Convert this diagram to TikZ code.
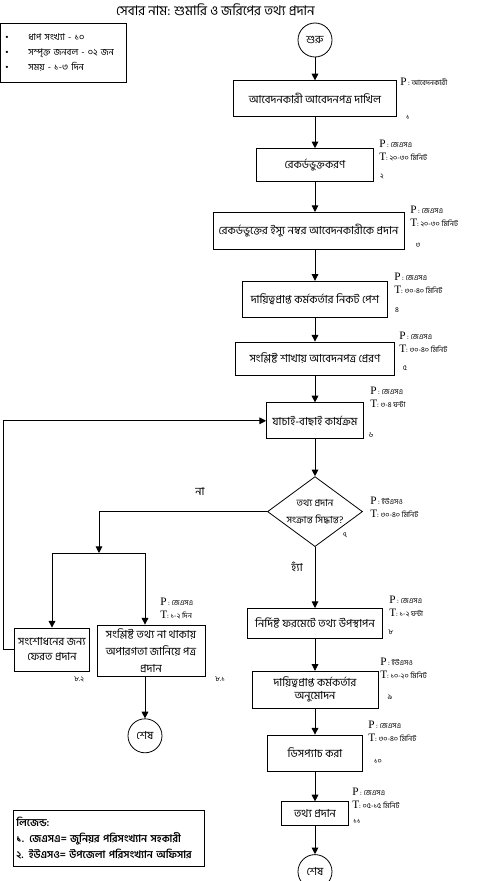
\documentclass[tikz,border=0pt]{standalone}
\usepackage{fontspec}
\setmainfont[Script=Bengali]{Hind Siliguri}
\newfontfamily\latinserif{Liberation Serif}
\usepackage{tikz}
\usetikzlibrary{arrows.meta,positioning,shapes.geometric}

\newcommand{\PTmark}[1]{{\latinserif\fontsize{8.5}{8.5}\selectfont #1}}

\begin{document}
\begin{tikzpicture}[
  x=0.75pt, y=-0.75pt,
  font=\fontsize{8.3}{11}\selectfont,
  task/.style={draw, line width=0.6pt, align=center, inner sep=1pt},
  terminal/.style={draw, circle, line width=0.6pt, minimum size=25.5pt, inner sep=0pt},
  decision/.style={draw, diamond, aspect=1.36, line width=0.6pt, align=center, inner sep=-1.5pt, minimum width=71.25pt, minimum height=52.5pt, font=\fontsize{7.3}{13}\selectfont},
  actor/.style={anchor=north west, align=left, inner sep=0pt, font=\fontsize{5.5}{9.25}\selectfont},
  stepno/.style={inner sep=0pt, font=\fontsize{5.5}{6}\selectfont},
  arrow/.style={-{Triangle[length=5pt,width=5pt]}, line width=0.7pt}
]
\useasboundingbox (0,0) rectangle (485,881);

\node[font=\fontsize{10}{11}\selectfont] (title) at (215.5,10) {সেবার নাম: শুমারি ও জরিপের তথ্য প্রদান};
\node[draw, line width=0.6pt, anchor=north west, align=left, text width=87pt, inner xsep=3.75pt, minimum height=44.25pt, font=\fontsize{7}{11.25}\selectfont] (info) at (0,23)
  {\makebox[17.25pt][l]{\latinserif\textbullet}ধাপ সংখ্যা - ১০\\\makebox[17.25pt][l]{\latinserif\textbullet}সম্পৃক্ত জনবল -  ০২ জন\\\makebox[17.25pt][l]{\latinserif\textbullet}সময় - ১-৩ দিন};

% main column
\node[terminal] (start) at (315,40) {শুরু};
\node[task, minimum width=122.25pt, minimum height=27pt, below=17.25pt of start] (box1) {আবেদনকারী আবেদনপত্র দাখিল};
\node[task, minimum width=87.75pt, minimum height=24.75pt, below=23.25pt of box1] (box2) {রেকর্ডভুক্তকরণ};
\node[task, minimum width=143.25pt, minimum height=27.75pt, below=22.5pt of box2, xshift=-4.9pt] (box3) {রেকর্ডভুক্তের ইস্যু নম্বর আবেদনকারীকে প্রদান};
\node[task, minimum width=108.75pt, minimum height=27pt, below=23.25pt of box3, xshift=4.9pt] (box4) {দায়িত্বপ্রাপ্ত কর্মকর্তার নিকট পেশ};
\node[task, minimum width=119.25pt, minimum height=24.75pt, below=18pt of box4] (box5) {সংশ্লিষ্ট শাখায় আবেদনপত্র প্রেরণ};
\node[task, minimum width=72.75pt, minimum height=27pt, below=20.25pt of box5] (box6) {যাচাই-বাছাই কার্যক্রম};
\node[decision, below=27.75pt of box6] (dia) {তথ্য প্রদান\\সংক্রান্ত সিদ্ধান্ত?};
\node[task, minimum width=101.25pt, minimum height=22.5pt, below=45.75pt of dia] (box8) {নির্দিষ্ট ফরমেটে তথ্য উপস্থাপন};
\node[task, minimum width=94.5pt, minimum height=27.75pt, below=24pt of box8, font=\fontsize{8.3}{9.75}\selectfont] (box9) {দায়িত্বপ্রাপ্ত কর্মকর্তার\\অনুমোদন};
\node[task, minimum width=71.25pt, minimum height=27pt, below=19.5pt of box9] (box10) {ডিসপ্যাচ করা};
\node[task, minimum width=50.25pt, minimum height=18pt, below=22.5pt of box10] (box11) {তথ্য প্রদান};
\node[terminal, below=21pt of box11] (end2) {শেষ};

% left branch
\coordinate (split) at (99,553);
\node[task, minimum width=56.25pt, minimum height=32.25pt, font=\fontsize{8.3}{11.25}\selectfont] (box82) at (52,649.5) {সংশোধনের জন্য\\ফেরত প্রদান};
\node[task, minimum width=81pt, minimum height=38.25pt, font=\fontsize{8.3}{12.75}\selectfont] (box81) at (151,650.5) {সংশ্লিষ্ট তথ্য না থাকায়\\অপারগতা জানিয়ে পত্র\\প্রদান};
\node[terminal, below=31.5pt of box81, xshift=-4.5pt] (end1) {শেষ};

\node (nolbl) at (200,491) {না};
\node (yeslbl) at (297,567) {হ্যাঁ};

% people and time
\node[actor] (p1) at (400,78) {\PTmark{P} : আবেদনকারী};
\node[actor] (p2) at (379,140) {\PTmark{P} : জেএসএ\\\PTmark{T}: ২০-৩০ মিনিট};
\node[actor] (p3) at (410,206) {\PTmark{P} : জেএসএ\\\PTmark{T}: ২০-৩০ মিনিট};
\node[actor] (p4) at (394,273) {\PTmark{P} : জেএসএ\\\PTmark{T}: ৩০-৪০ মিনিট};
\node[actor] (p5) at (399,332) {\PTmark{P} : জেএসএ\\\PTmark{T}: ৩০-৪০ মিনিট};
\node[actor] (p6) at (370,387) {\PTmark{P} : জেএসএ\\\PTmark{T}: ৩-৪ ঘন্টা};
\node[actor] (p7) at (370,497) {\PTmark{P} : ইউএসও\\\PTmark{T}: ৩০-৪০ মিনিট};
\node[actor] (p8) at (389,596) {\PTmark{P} : জেএসএ\\\PTmark{T}: ১-২ ঘন্টা};
\node[actor] (p9) at (380,658) {\PTmark{P} : ইউএসও\\\PTmark{T}: ১০-২০ মিনিট};
\node[actor] (p10) at (368,721) {\PTmark{P} : জেএসএ\\\PTmark{T}: ৩০-৪০ মিনিট};
\node[actor] (p11) at (352,788) {\PTmark{P} : জেএসএ\\\PTmark{T}: ০৫-১৫ মিনিট};
\node[actor] (p81) at (160,598) {\PTmark{P} : জেএসএ\\\PTmark{T}: ১-২ দিন};

\node[stepno] (n1) at (408,117) {১};
\node[stepno] (n2) at (382,176) {২};
\node[stepno] (n3) at (418,245) {৩};
\node[stepno] (n4) at (397,310) {৪};
\node[stepno] (n5) at (405,368) {৫};
\node[stepno] (n6) at (371,435) {৬};
\node[stepno] (n7) at (345,535) {৭};
\node[stepno] (n8) at (391,632) {৮};
\node[stepno] (n9) at (390,697) {৯};
\node[stepno] (n10) at (378,761) {১০};
\node[stepno] (n11) at (357,821) {১১};
\node[stepno] (n81) at (220,679) {৮.১};
\node[stepno] (n82) at (79,679) {৮.২};

\node[draw, line width=0.6pt, anchor=north west, align=left, text width=139pt, inner xsep=2.25pt, minimum height=42pt, font=\bfseries\fontsize{7.8}{12}\selectfont] (legend) at (13,810)
  {লিজেন্ড:\\১. জেএসএ= জুনিয়র পরিসংখ্যান সহকারী\\২. ইউএসও= উপজেলা পরিসংখ্যান অফিসার};

\draw[arrow] (start) -- (box1);
\draw[arrow] (box1) -- (box2);
\draw[arrow] (box2) -- (box2 |- box3.north);
\draw[arrow] (box3.south -| box4) -- (box4);
\draw[arrow] (box4) -- (box5);
\draw[arrow] (box5) -- (box6);
\draw[arrow] (box6) -- (dia);
\draw[arrow] (dia) -- (box8);
\draw[arrow] (box8) -- (box9);
\draw[arrow] (box9) -- (box10);
\draw[arrow] (box10) -- (box11);
\draw[arrow] (box11) -- (end2);
\draw[arrow] (dia.west) -| (split);
\draw[line width=0.7pt] (box82.north |- split) -- (end1 |- split);
\draw[arrow] (box82.north |- split) -- (box82.north);
\draw[arrow] (end1 |- split) -- (end1 |- box81.north);
\draw[arrow] (box81.south -| end1) -- (end1);
\draw[arrow] (box82.west) -- ++(-8.25pt,0) |- (box6.west);
\end{tikzpicture}
\end{document}
